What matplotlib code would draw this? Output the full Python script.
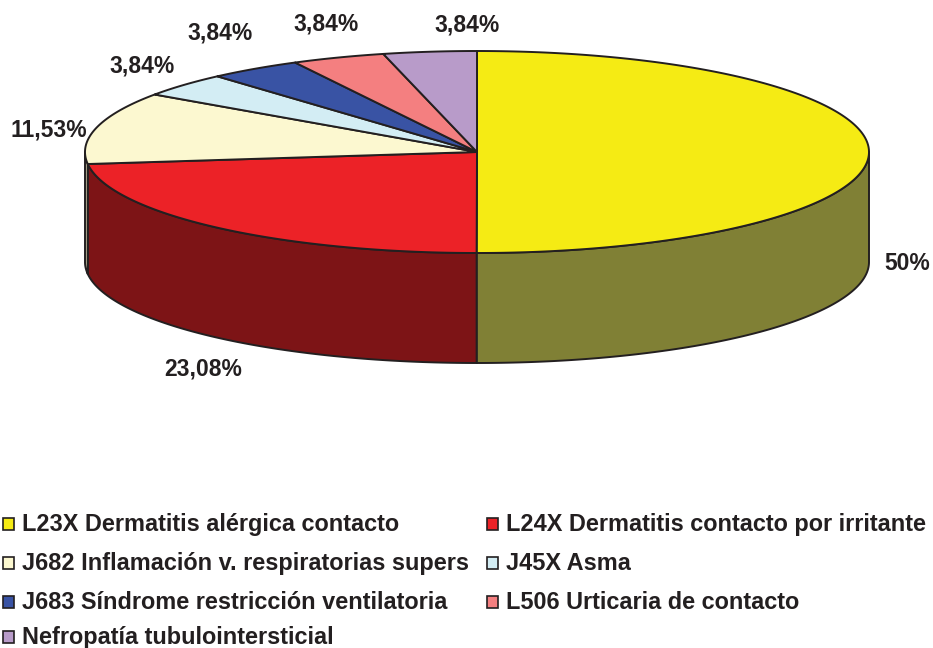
import numpy as np
import matplotlib.pyplot as plt
from matplotlib.patches import Polygon, Rectangle

# data
labels = ['L23X Dermatitis alérgica contacto',
          'L24X Dermatitis contacto por irritante',
          'J682 Inflamación v. respiratorias supers',
          'J45X Asma',
          'J683 Síndrome restricción ventilatoria',
          'L506 Urticaria de contacto',
          'Nefropatía tubulointersticial']
values = [50, 23.08, 11.53, 3.84, 3.84, 3.84, 3.84]
pct_text = ['50%', '23,08%', '11,53%', '3,84%', '3,84%', '3,84%', '3,84%']

top_colors = ['#F5EB14', '#EC2227', '#FCF8D0', '#D3EDF4', '#3953A4', '#F47F80', '#B89BC9']
side_colors = ['#808035', '#7D1416', '#BDB99B', '#9EB1B7', '#2A3E7B', '#B75F60', '#8A7497']
edge = '#231F20'

# layout (pixels)
cx, cy, rx, ry, depth = 477, 152, 392, 101, 110
label_pos = [(907, 263), (203, 369), (49, 130), (142, 66), (220, 33), (326, 24), (467, 25)]
leg_x = [3, 487]
leg_base = [531, 570, 609, 644]

plt.rcParams['font.family'] = ['Liberation Sans', 'DejaVu Sans']
fig = plt.figure(figsize=(9.33, 6.48), dpi=100)
ax = fig.add_axes([0, 0, 1, 1])
ax.set_xlim(0, 933)
ax.set_ylim(648, 0)
ax.axis('off')


def pts(a0, a1):
    t = np.radians(np.linspace(a0, a1, 200))
    return np.column_stack([cx + rx * np.sin(t), cy - ry * np.cos(t)])


total = sum(values)
angles = np.concatenate([[0], np.cumsum(values) / total * 360])

# front walls
for i in range(len(values)):
    a0, a1 = max(angles[i], 90), min(angles[i + 1], 270)
    if a1 > a0:
        p = pts(a0, a1)
        q = p[::-1] + [0, depth]
        ax.add_patch(Polygon(np.vstack([p, q]), closed=True, fc=side_colors[i],
                             ec=edge, lw=1.4, joinstyle='round'))

# top faces
for i in range(len(values)):
    p = np.vstack([[cx, cy], pts(angles[i], angles[i + 1])])
    ax.add_patch(Polygon(p, closed=True, fc=top_colors[i], ec=edge, lw=1.4,
                         joinstyle='round'))

for (x, y), t in zip(label_pos, pct_text):
    ax.text(x, y, t, ha='center', va='center', fontsize=16.5,
            fontweight='bold', color=edge)

# legend, filled row by row in two columns
for i, lab in enumerate(labels):
    x, y = leg_x[i % 2], leg_base[i // 2]
    ax.add_patch(Rectangle((x, y - 13), 11, 12, fc=top_colors[i], ec=edge, lw=1.2))
    ax.text(x + 19, y, lab, ha='left', va='baseline', fontsize=16.9,
            fontweight='bold', color=edge)

fig.savefig('out.png', dpi=100)
